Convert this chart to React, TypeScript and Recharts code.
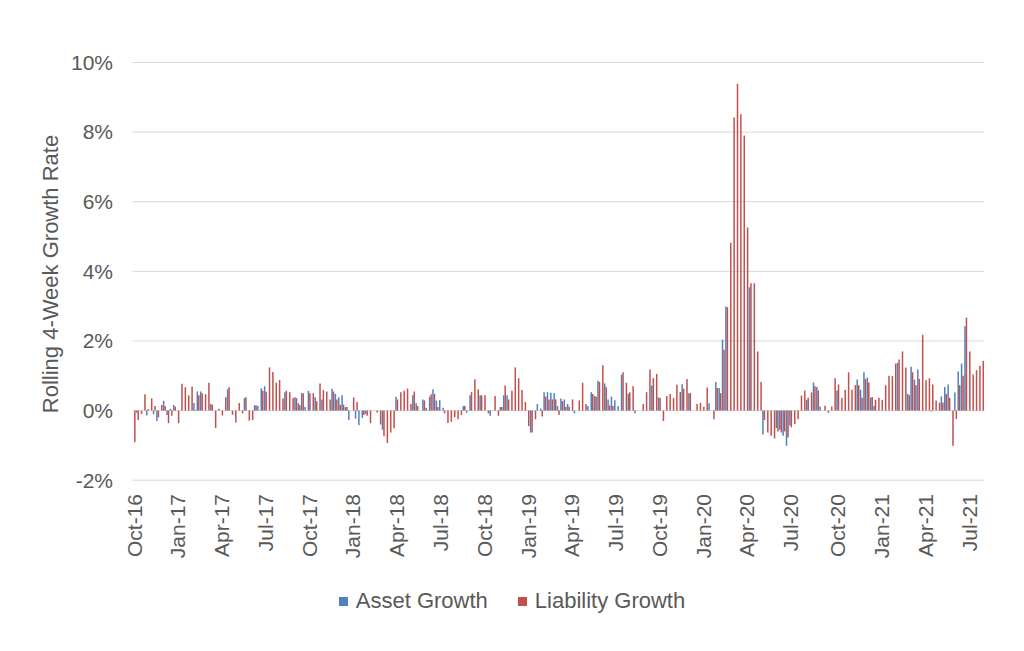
import React from "react";
import { BarChart, Bar, XAxis, YAxis, CartesianGrid, Legend } from "recharts";

// Weekly observations, first week 2016-10-05
const WEEK_START_UTC = Date.UTC(2016, 9, 5);

const ASSET_GROWTH: number[] = [
  0, -0.06, 0, 0, -0.14, 0, -0.1, -0.3, 0, 0.28,
  -0.13, 0.05, 0.16, 0, 0, 0, 0, 0, 0.22, 0.55,
  0.55, 0, 0, 0.19, 0, 0, 0, 0, 0.61, 0,
  0, 0, 0, 0.36, 0, 0, 0.15, 0.13, 0.64, 0.7,
  0, 0, 0, 0, 0, 0.53, 0, 0, 0.38, 0.21,
  0.5, 0.1, 0.57, 0, 0.38, 0, 0.32, 0, 0, 0.63,
  0.48, 0.38, 0.44, 0.1, -0.27, 0, -0.23, -0.42, -0.21, -0.1,
  0, 0, 0, 0, -0.55, 0, 0, 0, 0.4, 0,
  0, 0, 0, 0.44, 0.21, 0, 0.32, 0.08, 0.4, 0.61,
  0.29, 0.3, 0.08, 0, 0, 0, 0, 0, 0.13, -0.06,
  0.44, 0, 0, 0.44, 0, 0, -0.15, 0, 0, 0.1,
  0.44, 0.44, 0, 0, 0, 0, 0, 0, -0.63, 0,
  0.19, 0.06, 0.53, 0.53, 0.51, 0.5, 0.13, 0.35, 0.32, 0.19,
  0, -0.08, 0, 0, 0, 0.13, 0.53, 0.42, 0.86, 0,
  0.78, 0.32, 0.4, 0.3, 0.13, 1.03, 0, 0.48, 0, -0.08,
  0, 0, 0, 0, 0.72, 0, 0.38, 0, 0, 0,
  0, 0, 0, 0.76, 0, 0.5, 0, 0, 0, 0,
  0, 0.21, 0, 0.82, 0.65, 2.04, 2.99, 0, 0, 0,
  0, 0, 0, 3.54, 0, 0, 0, -0.69, 0, 0,
  0, -0.5, -0.55, -0.72, -1.01, -0.43, 0, 0, 0, 0,
  0.31, 0, 0.81, 0.68, 0.12, 0, 0, 0, 0, 0.58,
  0, 0, 0, 0, 0, 0.89, 0.6, 1.1, 0.95, 0.37,
  0.14, 0, 0, 0, 0, 0, 0, 1.37, 0, 0,
  0.48, 1.26, 0.89, 1.18, 0, 0, 0, -0.03, 0, 0,
  0.41, 0.68, 0.75, 0, 0.52, 1.12, 1.35, 2.42, 0, 0,
  0, 0, 0,
];

const LIABILITY_GROWTH: number[] = [
  -0.91, -0.27, -0.1, 0.47, 0.04, 0.35, 0.13, -0.19, 0.16, 0.13,
  -0.36, -0.15, 0.11, -0.36, 0.77, 0.67, 0.44, 0.69, 0.02, 0.44,
  0.5, 0.47, 0.8, 0.17, -0.5, 0.05, -0.14, 0.38, 0.67, -0.12,
  -0.34, 0.22, -0.08, 0.38, -0.29, -0.27, 0.15, 0, 0.57, 0.54,
  1.24, 1.11, 0.8, 0.88, 0.35, 0.57, 0.53, 0.36, 0.36, 0.15,
  0.5, 0, 0.5, 0.5, 0.27, 0.78, 0.59, 0.55, 0.32, 0.55,
  0.32, 0.17, 0.17, 0.1, 0, 0.38, 0.25, 0, -0.13, -0.15,
  -0.36, 0, -0.06, -0.4, -0.74, -0.93, -0.63, -0.51, 0.32, 0.53,
  0.57, 0.63, 0.19, 0.55, 0.13, 0, 0.29, 0, 0.47, 0.48,
  0.1, 0, -0.08, -0.36, -0.32, -0.19, -0.25, -0.13, 0.13, 0,
  0.53, 0.9, 0.61, 0.44, 0.44, -0.08, 0, 0.42, -0.15, 0.1,
  0.72, 0.32, 0.57, 1.24, 0.93, 0.59, 0.25, -0.44, -0.63, -0.25,
  0, -0.17, 0.4, 0.32, 0.32, 0.32, -0.12, 0.27, 0.1, 0.11,
  0.32, 0, 0.29, 0.8, 0.19, 0, 0.48, 0.4, 0.82, 1.3,
  0.67, 0.15, 0.13, 0, 0, 1.1, 0.8, 0.53, 0.7, 0,
  0, 0.19, 0.53, 1.18, 0.93, 1.05, 0.36, -0.3, 0.42, 0.48,
  0.36, 0.74, 0.53, 0.63, 0.91, 0.5, 0, 0.19, 0.22, 0.11,
  0.66, 0, -0.25, 0.65, 0.5, 1.75, 2.97, 4.82, 8.42, 9.39,
  8.51, 7.9, 5.26, 3.66, 3.66, 1.7, 0.82, -0.27, -0.63, -0.72,
  -0.8, -0.6, -0.63, -0.6, -0.77, -0.48, -0.39, -0.24, 0.43, 0.58,
  0.37, 0.52, 0.7, 0.58, 0, 0.14, -0.06, 0.12, 0.93, 0.75,
  0.37, 0.6, 1.1, 0.6, 0.73, 0.73, 0.37, 0.91, 0.81, 0.39,
  0.31, 0.37, 0.31, 0.73, 1.0, 0.99, 1.35, 1.47, 1.7, 1.24,
  0.44, 1.1, 0.73, 0.91, 2.18, 0.87, 0.93, 0.75, 0.29, 0.23,
  0.23, 0.48, 0.37, -1.01, -0.24, 0.73, 1.0, 2.67, 1.7, 1.04,
  1.16, 1.29, 1.43,
];

const TICK_LABELS: string[] = [
  "Oct-16", "Jan-17", "Apr-17", "Jul-17", "Oct-17", "Jan-18", "Apr-18",
  "Jul-18", "Oct-18", "Jan-19", "Apr-19", "Jul-19", "Oct-19", "Jan-20",
  "Apr-20", "Jul-20", "Oct-20", "Jan-21", "Apr-21", "Jul-21",
];

const Y_TICKS: number[] = [-2, 0, 2, 4, 6, 8, 10];

const SERIES = [
  { key: "asset", name: "Asset Growth", color: "#4F81BD" },
  { key: "liability", name: "Liability Growth", color: "#C0504D" },
];

const FONT = "'Liberation Sans', Arial, sans-serif";
const TEXT_COLOR = "#595959";

const WEEKS: string[] = ASSET_GROWTH.map((_, i) =>
  new Date(WEEK_START_UTC + i * 7 * 86400000).toISOString().slice(0, 10)
);

const QUARTER_WEEKS: string[] = WEEKS.filter((w) => {
  const m = Number(w.slice(5, 7));
  const d = Number(w.slice(8, 10));
  return (m - 1) % 3 === 0 && d <= 7;
});

const TICK_LABEL_BY_WEEK: Record<string, string> = {};
QUARTER_WEEKS.forEach((w, k) => {
  if (TICK_LABELS[k]) TICK_LABEL_BY_WEEK[w] = TICK_LABELS[k];
});

const DATA = WEEKS.map((w, i) => ({
  week: w,
  asset: ASSET_GROWTH[i],
  liability: LIABILITY_GROWTH[i],
}));

const XTick = (props: any) => {
  const { x, payload } = props;
  const label = TICK_LABEL_BY_WEEK[payload.value];
  if (!label) return <g />;
  const y = 494;
  return (
    <text
      x={x}
      y={y}
      transform={`rotate(-90 ${x} ${y})`}
      textAnchor="end"
      dy="0.35em"
      fill={TEXT_COLOR}
      fontSize={21}
      fontFamily={FONT}
    >
      {label}
    </text>
  );
};

const YTick = (props: any) => {
  const { y, payload } = props;
  return (
    <text
      x={113}
      y={y}
      textAnchor="end"
      dy="0.35em"
      fill={TEXT_COLOR}
      fontSize={21}
      fontFamily={FONT}
    >
      {`${payload.value}%`}
    </text>
  );
};

const YTitle = () => (
  <text
    x={50}
    y={274}
    transform="rotate(-90 50 274)"
    textAnchor="middle"
    dy="0.35em"
    fill={TEXT_COLOR}
    fontSize={22}
    fontFamily={FONT}
  >
    Rolling 4-Week Growth Rate
  </text>
);

const LegendContent = () => (
  <div
    style={{
      display: "flex",
      justifyContent: "center",
      alignItems: "center",
      fontFamily: FONT,
      fontSize: 22,
      color: TEXT_COLOR,
      lineHeight: "24px",
    }}
  >
    {SERIES.map((s) => (
      <span
        key={s.key}
        style={{ display: "flex", alignItems: "center", margin: "0 15px" }}
      >
        <span
          style={{
            display: "inline-block",
            width: 9,
            height: 9,
            background: s.color,
            marginRight: 8,
          }}
        />
        {s.name}
      </span>
    ))}
  </div>
);

export default function App() {
  return (
    <div style={{ position: "absolute", left: 0, top: 0, width: 1024, height: 651, background: "#fff" }}>
      <BarChart
        width={1024}
        height={651}
        data={DATA}
        margin={{ top: 62.5, right: 39.6, bottom: 70.8, left: 72.6 }}
        barGap={0}
        barCategoryGap={0}
      >
        <CartesianGrid vertical={false} stroke="#d9d9d9" strokeWidth={1} />
        <XAxis
          dataKey="week"
          type="category"
          interval={0}
          axisLine={false}
          tickLine={false}
          tick={<XTick />}
          height={100}
        />
        <YAxis
          type="number"
          domain={[-2, 10]}
          ticks={Y_TICKS}
          axisLine={false}
          tickLine={false}
          tick={<YTick />}
          width={60}
          label={<YTitle />}
        />
        <Legend
          layout="horizontal"
          verticalAlign="middle"
          align="center"
          wrapperStyle={{ top: 589, left: 0, width: 1024 }}
          content={<LegendContent />}
        />
        {SERIES.map((s) => (
          <Bar
            key={s.key}
            dataKey={s.key}
            name={s.name}
            fill={s.color}
            barSize={1.5}
            isAnimationActive={false}
          />
        ))}
      </BarChart>
    </div>
  );
}
